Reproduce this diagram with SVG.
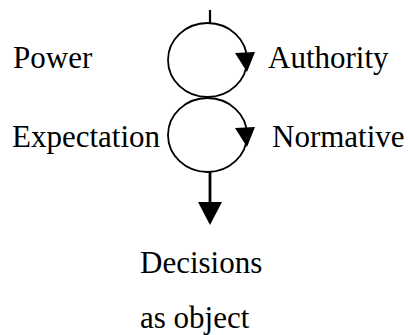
<svg xmlns="http://www.w3.org/2000/svg" width="408" height="335" viewBox="0 0 408 335">
<style>
.t{font-family:'Liberation Serif','Times New Roman','DejaVu Serif',serif;font-size:31px;fill:#000}
.c{fill:none;stroke:#000;stroke-width:1.8}
.h{fill:#000;stroke:none}
</style>
<rect width="408" height="335" fill="#fff"/>
<g id="connectors">
<line x1="210" y1="10" x2="210" y2="24" stroke="#000" stroke-width="2.2"/>
<line x1="210" y1="172" x2="210" y2="204" stroke="#000" stroke-width="2.8"/>
<polygon class="h" points="198,202 222,202 210,225"/>
</g>
<g id="loop1">
<ellipse class="c" cx="207.5" cy="60" rx="39.5" ry="37"/>
<polygon class="h" points="235,53 255,52 247,72"/>
</g>
<g id="loop2">
<ellipse class="c" cx="207.5" cy="135" rx="39.5" ry="37"/>
<polygon class="h" points="235,128 255,127 247,147"/>
</g>
<g id="power"><text class="t" font-family="Liberation Serif, serif" x="13" y="68">Power</text></g>
<g id="authority"><text class="t" x="268" y="68">Authority</text></g>
<g id="expectation"><text class="t" x="12" y="147">Expectation</text></g>
<g id="normative"><text class="t" x="272" y="147">Normative</text></g>
<g id="decisions"><text class="t" x="140" y="273">Decisions</text><text class="t" x="140" y="328">as object</text></g>
</svg>
